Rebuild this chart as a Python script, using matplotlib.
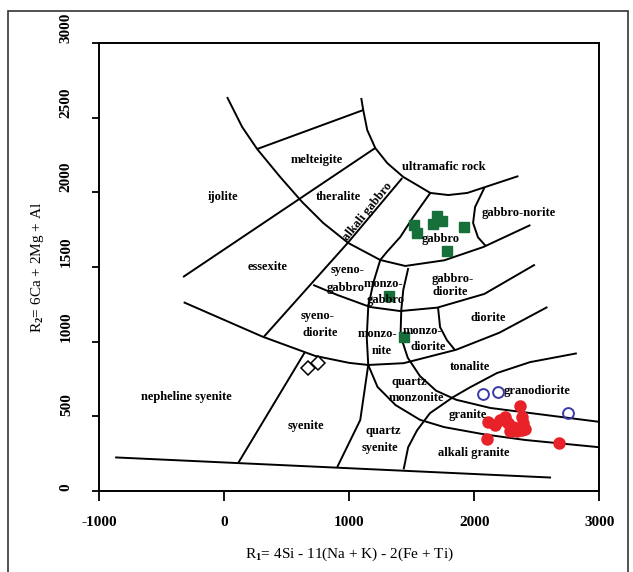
import matplotlib.pyplot as plt
from matplotlib.patches import Rectangle

plt.rcParams['font.family'] = ['Liberation Serif', 'DejaVu Serif']
plt.rcParams['font.weight'] = 'bold'
plt.rcParams['mathtext.fontset'] = 'custom'
plt.rcParams['mathtext.rm'] = 'Liberation Serif:bold'
plt.rcParams['mathtext.it'] = 'Liberation Serif:bold'
plt.rcParams['mathtext.bf'] = 'Liberation Serif:bold'

# boundary curves of the R1-R2 grid, as (R1, R2) pairs
base_line = [(-871, 225), (2613, 90)]
arc_a = [(24, 2638), (144, 2438), (264, 2290), (448, 2103), (624, 1935), (792, 1795),
         (992, 1661), (1248, 1547), (1448, 1507), (1760, 1545), (2072, 1634), (2448, 1781)]
arc_b = [(1096, 2632), (1112, 2551), (1144, 2417), (1208, 2297), (1304, 2196), (1432, 2103),
         (1568, 2036), (1648, 1996), (1792, 1982), (1944, 1996), (2352, 2109)]
melteigite_top = [(264, 2290), (1112, 2551)]
ijolite_line = [(-328, 1433), (1208, 2297)]
alkali_gabbro_line = [(1424, 2096), (992, 1665), (320, 1035)]
arc_c = [(-323, 1264), (306, 1034), (726, 905), (1000, 858), (1152, 844), (1435, 856),
         (1855, 946), (2200, 1060), (2584, 1232)]
arc_d = [(712, 1380), (904, 1313), (1168, 1232), (1408, 1205), (1704, 1228), (2081, 1320),
         (2484, 1516)]
curve_f = [(1648, 1996), (1512, 1835), (1408, 1701), (1300, 1600), (1248, 1547), (1192, 1393),
           (1152, 1232), (1140, 1031), (1152, 844), (1088, 475), (904, 160)]
curve_g = [(1472, 1493), (1432, 1346), (1416, 1212), (1410, 1040), (1468, 892), (1565, 770),
           (1694, 672), (1855, 611), (2128, 556), (2448, 522), (3000, 463)]
curve_h = [(1152, 844), (1226, 697), (1371, 575), (1565, 477), (1758, 428), (2081, 379),
           (2403, 342), (3000, 293)]
line_i = [(2819, 922), (2445, 863), (2181, 790), (1965, 694), (1829, 628), (1645, 521),
          (1542, 406), (1471, 293), (1435, 145)]
line_j = [(1710, 1228), (1726, 1098), (1781, 1010), (1845, 944)]
norite_curve = [(2080, 2030), (2006, 1902), (1990, 1795), (2029, 1699), (2094, 1638)]
syenite_line = [(645, 929), (113, 188)]
boundaries = [base_line, arc_a, arc_b, melteigite_top, ijolite_line, alkali_gabbro_line,
              arc_c, arc_d, curve_f, curve_g, curve_h, line_i, line_j, norite_curve,
              syenite_line]

# field names and where they sit
field_names = ['melteigite', 'ijolite', 'theralite', 'essexite', 'syeno-', 'gabbro',
               'ultramafic rock', 'gabbro-norite', 'gabbro', 'monzo-', 'gabbro',
               'gabbro-', 'diorite', 'syeno-', 'diorite', 'monzo-', 'nite',
               'monzo-', 'diorite', 'diorite', 'tonalite', 'quartz', 'monzonite',
               'granodiorite', 'granite', 'alkali granite', 'nepheline syenite',
               'syenite', 'quartz', 'syenite']
name_r1 = [744, -8, 912, 344, 984, 968, 1760, 2352, 1728, 1272, 1288, 1824, 1808, 744, 768,
           1224, 1256, 1584, 1632, 2112, 1968, 1480, 1536, 2504, 1944, 1996, -304, 656,
           1272, 1248]
name_r2 = [2216, 1969, 1969, 1500, 1480, 1359, 2170, 1862, 1688, 1386, 1279, 1420, 1333,
           1172, 1058, 1051, 938, 1071, 964, 1158, 830, 730, 623, 670, 509, 252, 630, 435,
           402, 288]

# samples
green_r1 = [1520, 1544, 1704, 1744, 1672, 1920, 1784, 1320, 1440]
green_r2 = [1781, 1728, 1842, 1808, 1788, 1768, 1607, 1306, 1031]
red_r1 = [2368, 2112, 2168, 2208, 2248, 2272, 2312, 2288, 2384, 2392, 2384, 2344, 2408, 2104, 2680]
red_r2 = [569, 462, 442, 475, 496, 455, 429, 402, 496, 455, 408, 402, 415, 348, 321]
blue_r1 = [2072, 2192, 2752]
blue_r2 = [650, 663, 522]
diamond_r1 = [672, 752]
diamond_r2 = [824, 857]

fig = plt.figure(figsize=(6.33, 5.72), dpi=100)
ax = fig.add_axes([0.1564, 0.1416, 0.7906, 0.7832])
fig.patches.append(Rectangle((0.0126, -0.1), 0.9795, 1.081, transform=fig.transFigure,
                             fill=False, edgecolor='#333333', linewidth=1.2))

for line in boundaries:
    xs = [p[0] for p in line]
    ys = [p[1] for p in line]
    ax.plot(xs, ys, color='black', lw=1.4, solid_capstyle='butt')

for name, x, y in zip(field_names, name_r1, name_r2):
    ax.text(x, y, name, ha='center', va='center', fontsize=9)
ax.text(1144, 1868, 'alkali gabbro', ha='center', va='center', fontsize=9, rotation=51)

ax.plot(green_r1, green_r2, 's', color='#17703a', ms=6.8, mec='#17703a', ls='none')
ax.plot(red_r1, red_r2, 'o', color='#e82228', ms=8, mec='#e82228', ls='none')
ax.plot(blue_r1, blue_r2, 'o', mfc='none', mec='#3a3aa8', ms=7.8, mew=1.4, ls='none')
ax.plot(diamond_r1, diamond_r2, 'D', mfc='white', mec='black', ms=7.5, mew=1.1, ls='none')

ax.set_xlim(-1000, 3000)
ax.set_ylim(0, 3000)
ax.set_xticks([-1000, 0, 1000, 2000, 3000])
ax.set_xticklabels(['-1000', '0', '1000', '2000', '3000'], fontsize=11)
ax.set_yticks([0, 500, 1000, 1500, 2000, 2500, 3000])
ax.set_yticklabels(['0', '500', '1000', '1500', '2000', '2500', '3000'], fontsize=11,
                   rotation=90, va='bottom', ha='center')
ax.tick_params(axis='x', length=7, width=1.3, pad=11)
ax.tick_params(axis='y', length=5, width=1.3, pad=18.5)
for s in ax.spines.values():
    s.set_linewidth(1.4)

ax.set_xlabel(r'R$_1$= 4Si - 11(Na + K) - 2(Fe + Ti)', fontsize=11)
ax.xaxis.set_label_coords(0.5, -0.122)
ax.set_ylabel(r'R$_2$= 6Ca + 2Mg + Al', fontsize=11)
ax.yaxis.set_label_coords(-0.106, 0.5)

fig.savefig('out.png', dpi=100)
